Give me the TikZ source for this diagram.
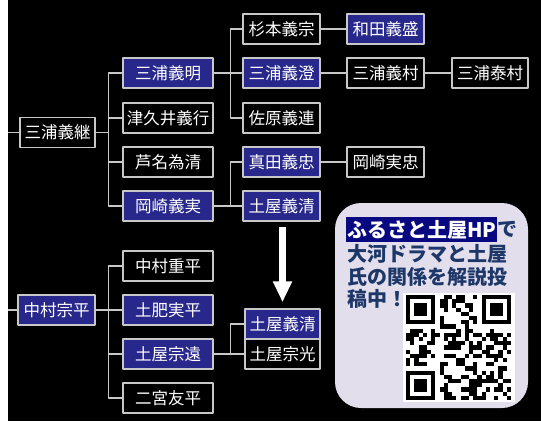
\documentclass[tikz,border=0pt]{standalone}
\usepackage{fontspec}
\setmainfont{Noto Sans CJK JP}
\usetikzlibrary{positioning,arrows.meta}
\definecolor{kamonblue}{RGB}{40,40,140}
\definecolor{framegray}{RGB}{200,200,200}
\definecolor{navyhl}{RGB}{8,8,128}
\definecolor{noteblue}{RGB}{30,55,105}
\definecolor{notebg}{RGB}{226,222,235}
\begin{document}
\begin{tikzpicture}[x=1pt,y=-1pt,line join=round]

		\tikzset{person/.style={draw=framegray,line width=1.5pt,fill=black,text=white,minimum width=77pt,minimum height=30pt,inner sep=0pt,font=\fontsize{16.5pt}{18pt}\selectfont},
			heir/.style={person,fill=kamonblue},
			wide/.style={minimum width=90pt},
			link/.style={framegray,line width=1.4pt},
			note/.style={anchor=west,inner sep=0pt,text=noteblue,font=\fontsize{20pt}{22pt}\selectfont\bfseries}}

		\fill[white] (0,0) rectangle (541,421);
		\fill[black] (8,0) rectangle (541,421);
		\useasboundingbox (0,0) rectangle (541,421);

		\node[person,minimum width=75pt] (yoshitsugu) at (57.5,132.5) {三浦義継};
		\node[heir,wide] (yoshiaki) at (168,73) {三浦義明};
		\node[person,wide] (tsukui) at (168,118) {津久井義行};
		\node[person,wide] (ashina) at (168,162) {芦名為清};
		\node[heir,wide] (okazaki) at (168,206) {岡崎義実};
		\node[person] (sugimoto) at (281.5,29) {杉本義宗};
		\node[heir] (yoshizumi) at (281.5,73) {三浦義澄};
		\node[person] (sahara) at (281.5,118) {佐原義連};
		\node[heir] (sanada) at (281.5,162) {真田義忠};
		\node[heir] (kiyo1) at (281.5,206) {土屋義清};
		\node[heir] (wada) at (385.5,29) {和田義盛};
		\node[person] (yoshimura) at (385.5,73) {三浦義村};
		\node[person] (sanetada) at (385.5,162) {岡崎実忠};
		\node[person,minimum width=76pt] (yasumura) at (490,73) {三浦泰村};

		\node[heir] (munehira) at (56.5,310) {中村宗平};
		\node[person,wide] (shigehira) at (168,266) {中村重平};
		\node[heir,wide] (sanehira) at (168,310) {土肥実平};
		\node[heir,wide] (munetoo) at (168,354) {土屋宗遠};
		\node[person,wide] (ninomiya) at (168,398) {二宮友平};
		\node[heir,minimum width=75pt] (kiyo2) at (282.5,324) {土屋義清};
		\node[person,minimum width=75pt] (munemitsu) at (282.5,354) {土屋宗光};

		\coordinate (edgeA) at (8,132.5);
		\coordinate (edgeB) at (8,310);
		\draw[link] (edgeA) -- (yoshitsugu);
		\draw[link] (edgeB) -- (munehira);
		\foreach \c in {yoshiaki,tsukui,ashina,okazaki}
		\draw[link] (yoshitsugu.east) -- ++(13,0) |- (\c.west);
		\foreach \c in {sugimoto,yoshizumi,sahara}
		\draw[link] (yoshiaki.east) -- ++(17,0) |- (\c.west);
		\foreach \c in {sanada,kiyo1}
		\draw[link] (okazaki.east) -- ++(17,0) |- (\c.west);
		\draw[link] (sugimoto) -- (wada);
		\draw[link] (yoshizumi) -- (yoshimura) -- (yasumura);
		\draw[link] (sanada) -- (sanetada);
		\foreach \c in {shigehira,sanehira,munetoo,ninomiya}
		\draw[link] (munehira.east) -- ++(13,0) |- (\c.west);
		\foreach \c in {kiyo2,munemitsu}
		\draw[link] (munetoo.east) -- ++(17,0) |- (\c.west);

		\draw[white,line width=7pt,shorten <=5pt,shorten >=6pt,-{Triangle[width=18pt,length=21pt]}] (kiyo2.north |- kiyo1.south) -- (kiyo2.north);

		\fill[notebg,rounded corners=26pt] (335,203) rectangle (528,408);
		\node[note,fill=navyhl,text=white,inner sep=1pt,minimum height=25pt] (hp) at (346,229.5) {ふるさと土屋HP};
		\node[note,right=0pt of hp] (de) {で};
		\node[note] (line2) at (347,254) {大河ドラマと土屋};
		\node[note] (line3) at (347,277) {氏の関係を解説投};
		\node[note] (line4) at (347,299) {稿中！};

		\fill[white] (403,293) rectangle (515,402);
		\foreach \i in {0,...,24}
		\foreach \j in {0,...,24} {
			\pgfmathtruncatemacro\qbit{mod(mod((\i+3)*(\j+5),97)*mod(\i*\j+7,89)+mod(\i*\i*\j,101)+\j*\j*3,13)<6}
			\pgfmathtruncatemacro\infinder{(\i<8 && \j<8) || (\i>16 && \j<8) || (\i<8 && \j>16)}
			\ifnum\qbit=1 \ifnum\infinder=0
			\fill[black] ({406+4.2*\i},{295+4.2*\j}) rectangle ++(4.2,4.2);
			\fi\fi
		}
		\foreach \fx/\fy in {0/0,18/0,0/18} {
			\fill[black] ({406+4.2*\fx},{295+4.2*\fy}) rectangle ++(29.4,29.4);
			\fill[white] ({410.2+4.2*\fx},{299.2+4.2*\fy}) rectangle ++(21,21);
			\fill[black] ({414.4+4.2*\fx},{303.4+4.2*\fy}) rectangle ++(12.6,12.6);
		}
		\end{tikzpicture}
\end{document}
